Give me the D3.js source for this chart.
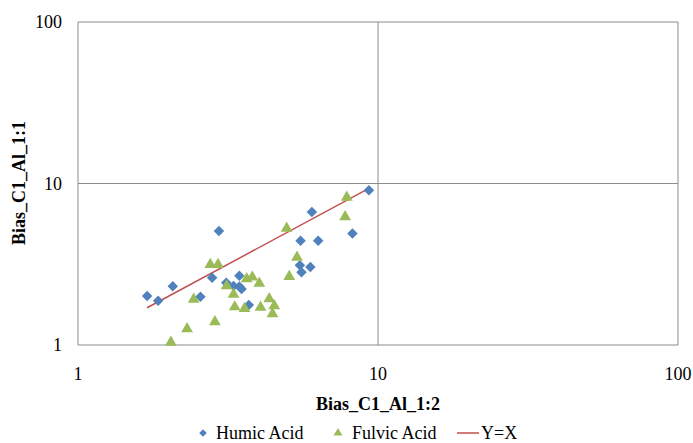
<!DOCTYPE html>
<meta charset="utf-8">
<style>
  body { margin: 0; background: #fff; }
  .grid line { stroke: #8c8c8c; stroke-width: 1; }
</style>
<body>
<script src="https://d3js.org/d3.v7.min.js"></script>
<script>
// Humic Acid points [x, y]
var humicX = [1.70, 1.85, 2.07, 2.95, 2.56, 2.80, 3.12, 3.45, 3.30, 3.45, 3.51, 3.71, 9.33, 6.02, 8.22, 5.52, 6.32, 5.49, 5.95, 5.56];
var humicY = [2.01, 1.88, 2.31, 5.08, 1.99, 2.61, 2.43, 2.68, 2.32, 2.30, 2.22, 1.77, 9.09, 6.65, 4.91, 4.42, 4.42, 3.12, 3.04, 2.82];

// Fulvic Acid points [x, y]
var fulvicX = [2.04, 2.31, 2.43, 2.86, 2.76, 2.93, 3.13, 3.30, 3.33, 3.59, 3.65, 3.81, 4.02, 4.06, 4.34, 4.51, 4.45, 5.06, 5.37, 4.96, 7.87, 7.77];
var fulvicY = [1.04, 1.26, 1.92, 1.39, 3.15, 3.15, 2.32, 2.06, 1.72, 1.68, 2.57, 2.63, 2.41, 1.71, 1.93, 1.75, 1.56, 2.65, 3.49, 5.28, 8.20, 6.22];

// Y=X reference line
var lineX = [1.70, 9.33];

var tickValues = [1, 10, 100];
var legendLabels = ["Humic Acid", "Fulvic Acid", "Y=X"];

var width = 693, height = 443;
var margin = {top: 22, right: 15, bottom: 98, left: 78};

var svg = d3.select("body").append("svg")
    .attr("width", width)
    .attr("height", height)
    .attr("font-family", "'Liberation Serif', 'Times New Roman', Times, serif");

var x = d3.scaleLog().domain([1, 100]).range([margin.left, width - margin.right]);
var y = d3.scaleLog().domain([1, 100]).range([height - margin.bottom, margin.top]);

var blue = "#4f81bd", green = "#9bbb59", red = "#c0504d";

// gridlines + border
var grid = svg.append("g").attr("class", "grid");
grid.selectAll(".gx").data(tickValues).enter().append("line")
    .attr("x1", function(d) { return x(d); }).attr("x2", function(d) { return x(d); })
    .attr("y1", y(1)).attr("y2", y(100));
grid.selectAll(".gy").data(tickValues).enter().append("line")
    .attr("y1", function(d) { return y(d); }).attr("y2", function(d) { return y(d); })
    .attr("x1", x(1)).attr("x2", x(100));

// tick labels
svg.append("g").selectAll("text").data(tickValues).enter().append("text")
    .attr("x", function(d) { return x(d); })
    .attr("y", y(1) + 35)
    .attr("text-anchor", "middle")
    .attr("font-size", 18)
    .text(function(d) { return d; });

svg.append("g").selectAll("text").data(tickValues).enter().append("text")
    .attr("x", x(1) - 16)
    .attr("y", function(d) { return y(d) + 6; })
    .attr("text-anchor", "end")
    .attr("font-size", 18)
    .text(function(d) { return d; });

// axis titles
svg.append("text")
    .attr("x", 378).attr("y", 410)
    .attr("text-anchor", "middle")
    .attr("font-size", 18).attr("font-weight", "bold")
    .text("Bias_C1_Al_1:2");

svg.append("text")
    .attr("transform", "translate(25,183) rotate(-90)")
    .attr("text-anchor", "middle")
    .attr("font-size", 18).attr("font-weight", "bold")
    .text("Bias_C1_Al_1:1");

// Y=X line
svg.append("line")
    .attr("x1", x(lineX[0])).attr("y1", y(lineX[0]))
    .attr("x2", x(lineX[1])).attr("y2", y(lineX[1]))
    .attr("stroke", red).attr("stroke-width", 1.5);

var diamond = d3.symbol().type(d3.symbolDiamond2).size(70);
var triangle = d3.symbol().type(d3.symbolTriangle).size(60);

svg.append("g").selectAll("path").data(humicX).enter().append("path")
    .attr("d", diamond)
    .attr("transform", function(d, i) { return "translate(" + x(d) + "," + y(humicY[i]) + ")"; })
    .attr("fill", blue);

svg.append("g").selectAll("path").data(fulvicX).enter().append("path")
    .attr("d", triangle)
    .attr("transform", function(d, i) { return "translate(" + x(d) + "," + y(fulvicY[i]) + ")"; })
    .attr("fill", green);

// legend
var lg = svg.append("g").attr("font-size", 18);
lg.append("path").attr("d", d3.symbol().type(d3.symbolDiamond2).size(36))
    .attr("transform", "translate(203,433)").attr("fill", blue);
lg.append("text").attr("x", 216).attr("y", 439).text(legendLabels[0]);
lg.append("path").attr("d", d3.symbol().type(d3.symbolTriangle).size(34))
    .attr("transform", "translate(338,433)").attr("fill", green);
lg.append("text").attr("x", 352).attr("y", 439).text(legendLabels[1]);
lg.append("line").attr("x1", 457).attr("x2", 479).attr("y1", 433).attr("y2", 433)
    .attr("stroke", red).attr("stroke-width", 1.5);
lg.append("text").attr("x", 481).attr("y", 439).text(legendLabels[2]);
</script>
</body>
